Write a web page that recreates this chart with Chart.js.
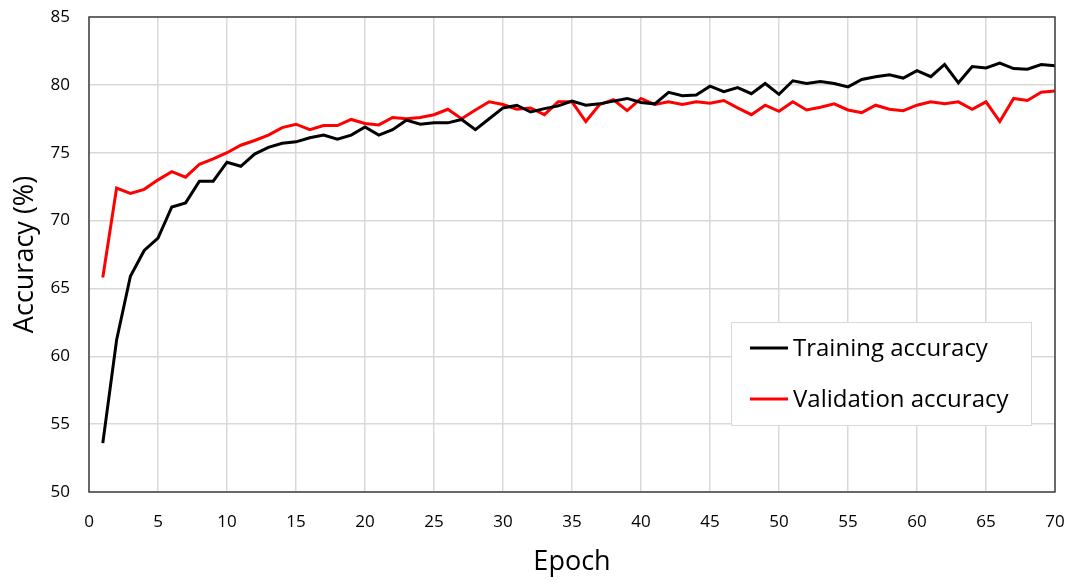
<!DOCTYPE html>
<html>
<head>
<meta charset="utf-8">
<script src="https://cdn.jsdelivr.net/npm/chart.js@4"></script>
<style>
html,body{margin:0;padding:0;background:#fff;}
#wrap{width:1071px;height:581px;position:relative;}
</style>
</head>
<body>
<div id="wrap"><canvas id="c" width="1071" height="581"></canvas></div>
<script>
const epochs = [1,2,3,4,5,6,7,8,9,10,11,12,13,14,15,16,17,18,19,20,21,22,23,24,25,26,27,28,29,30,31,32,33,34,35,36,37,38,39,40,41,42,43,44,45,46,47,48,49,50,51,52,53,54,55,56,57,58,59,60,61,62,63,64,65,66,67,68,69,70];
const trainingAccuracy = [53.6,61.2,65.9,67.8,68.7,71.0,71.3,72.9,72.9,74.3,74.0,74.9,75.4,75.7,75.8,76.1,76.3,76.0,76.3,76.9,76.3,76.7,77.4,77.1,77.2,77.2,77.45,76.7,77.5,78.3,78.5,78.0,78.25,78.45,78.8,78.5,78.6,78.8,79.0,78.7,78.6,79.45,79.2,79.25,79.9,79.5,79.8,79.35,80.1,79.3,80.3,80.1,80.25,80.1,79.85,80.4,80.6,80.75,80.5,81.05,80.6,81.5,80.15,81.35,81.25,81.6,81.2,81.15,81.5,81.4];
const validationAccuracy = [65.8,72.4,72.0,72.3,73.0,73.6,73.2,74.15,74.55,75.0,75.55,75.9,76.3,76.85,77.1,76.7,77.0,77.0,77.45,77.15,77.05,77.6,77.5,77.6,77.8,78.2,77.5,78.15,78.75,78.55,78.2,78.3,77.8,78.75,78.75,77.3,78.55,78.9,78.1,79.0,78.55,78.75,78.55,78.75,78.65,78.85,78.3,77.8,78.5,78.05,78.75,78.15,78.35,78.6,78.15,77.95,78.5,78.2,78.1,78.5,78.75,78.6,78.75,78.2,78.75,77.3,79.0,78.85,79.45,79.55];
const xTicks = [0,5,10,15,20,25,30,35,40,45,50,55,60,65,70];
const yTicks = [50,55,60,65,70,75,80,85];
const seriesLabels = ['Training accuracy','Validation accuracy'];
const seriesColors = ['#000000','#ff0000'];

const FONT = "'Open Sans', 'Noto Sans', sans-serif";

const boxPlugin = {
  id: 'box',
  afterDatasetsDraw(chart) {
    const {ctx, chartArea: a} = chart;
    ctx.save();
    ctx.strokeStyle = '#404040';
    ctx.lineWidth = 1.5;
    ctx.strokeRect(a.left, a.top, a.right - a.left, a.bottom - a.top);
    ctx.restore();
  },
  afterDraw(chart) {
    const {ctx} = chart;
    const bx = 731, by = 322, bw = 300, bh = 103;
    ctx.save();
    ctx.fillStyle = '#ffffff';
    ctx.fillRect(bx, by, bw, bh);
    ctx.strokeStyle = '#d9d9d9';
    ctx.lineWidth = 1;
    ctx.strokeRect(bx + 0.5, by + 0.5, bw, bh);
    ctx.font = "24px " + FONT;
    ctx.textBaseline = 'middle';
    chart.data.datasets.forEach((ds, i) => {
      const y = by + 26 + i * 51;
      ctx.strokeStyle = ds.borderColor;
      ctx.lineWidth = 3;
      ctx.beginPath();
      ctx.moveTo(750, y);
      ctx.lineTo(788, y);
      ctx.stroke();
      ctx.fillStyle = '#000';
      ctx.fillText(ds.label, 793, y + 1);
    });
    ctx.restore();
  }
};

new Chart(document.getElementById('c'), {
  type: 'line',
  data: {
    datasets: [
      {label: seriesLabels[0], data: epochs.map((e, i) => ({x: e, y: trainingAccuracy[i]})), borderColor: seriesColors[0], backgroundColor: seriesColors[0], borderWidth: 3, pointRadius: 0, tension: 0, fill: false},
      {label: seriesLabels[1], data: epochs.map((e, i) => ({x: e, y: validationAccuracy[i]})), borderColor: seriesColors[1], backgroundColor: seriesColors[1], borderWidth: 3, pointRadius: 0, tension: 0, fill: false}
    ]
  },
  options: {
    responsive: false,
    animation: false,
    devicePixelRatio: 1,
    layout: {padding: {top: 17, right: 16, left: 0, bottom: 0}},
    plugins: {legend: {display: false}, tooltip: {enabled: false}},
    scales: {
      x: {
        type: 'linear', min: 0, max: 70,
        afterBuildTicks(s) { s.ticks = xTicks.map(v => ({value: v})); },
        afterFit(s) { s.height = 89; },
        ticks: {color: '#000', font: {family: FONT, size: 17}, padding: 2, maxRotation: 0, autoSkip: false},
        grid: {color: '#d9d9d9', lineWidth: 1.5, drawTicks: true, tickLength: 18, tickColor: 'rgba(0,0,0,0)'},
        border: {display: false},
        title: {display: true, text: 'Epoch', color: '#000', font: {family: FONT, size: 27}, padding: {top: 2, bottom: 2}}
      },
      y: {
        type: 'linear', min: 50, max: 85,
        afterBuildTicks(s) { s.ticks = yTicks.map(v => ({value: v})); },
        afterFit(s) { s.width = 89; },
        ticks: {color: '#000', font: {family: FONT, size: 17}, padding: 5, autoSkip: false},
        grid: {color: '#d9d9d9', lineWidth: 1.5, drawTicks: true, tickLength: 14, tickColor: 'rgba(0,0,0,0)'},
        border: {display: false},
        title: {display: true, text: 'Accuracy (%)', color: '#000', font: {family: FONT, size: 27}, padding: {top: 9, bottom: 0}}
      }
    }
  },
  plugins: [boxPlugin]
});
</script>
</body>
</html>
